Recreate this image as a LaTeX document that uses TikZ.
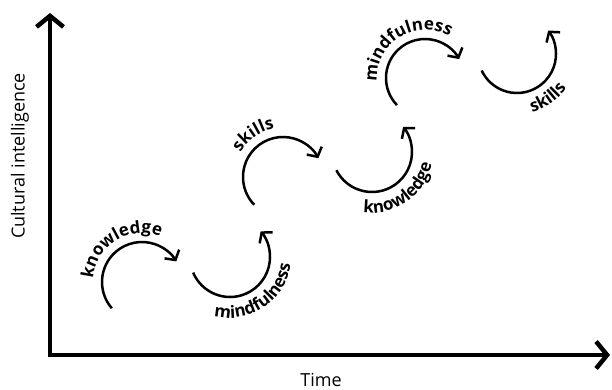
\documentclass[tikz,border=0pt]{standalone}
\usepackage{fontspec}
\setmainfont{Open Sans}
\usetikzlibrary{arrows.meta,decorations.text}
\begin{document}
\begin{tikzpicture}[x=1pt,y=1pt,
  axisline/.style={line width=4.5pt,-{Straight Barb[length=11pt,width=27pt]}},
  cyc/.style={line width=2.5pt,-{Straight Barb[length=7pt,width=17pt]}},
  axislabel/.style={font=\fontsize{18}{20}\selectfont,inner sep=0pt},
  lbl/.style={decorate,decoration={text along path,text align=center,
    text={|\fontsize{17}{20}\selectfont\bfseries|#1}}}
]
\useasboundingbox (0,0) rectangle (612,390);
% axes
\coordinate (O) at (50,35);
\coordinate (Ytop) at (50,377);
\coordinate (Xend) at (610,35);
\draw[axisline] (O) -- (Ytop);
\draw[axisline] ([xshift=-2.25pt]O) -- (Xend);
\node[axislabel,rotate=90] (ylab) at (20,234) {Cultural intelligence};
\node[axislabel] (xlab) at (321,10) {Time};
% centres
\coordinate (c1) at (142,108);
\coordinate (c2) at (230,133);
\coordinate (c3) at (283,213);
\coordinate (c4) at (372,238);
\coordinate (c5) at (425,312);
\coordinate (c6) at (517,336);
% arcs
\draw[cyc] ([shift={(221:40)}]c1) arc[start angle=221,end angle=31,radius=40];
\draw[cyc] ([shift={(203:40)}]c2) arc[start angle=203,end angle=400,radius=40];
\draw[cyc] ([shift={(224:40)}]c3) arc[start angle=224,end angle=28,radius=40];
\draw[cyc] ([shift={(207:40)}]c4) arc[start angle=207,end angle=399,radius=40];
\draw[cyc] ([shift={(224:39)}]c5) arc[start angle=224,end angle=29,radius=39];
\draw[cyc] ([shift={(205:39)}]c6) arc[start angle=205,end angle=397,radius=39];
% labels
\path[lbl=knowledge] ([shift={(190:49)}]c1) arc[start angle=190,end angle=54,radius=49];
\path[lbl=mindfulness] ([shift={(234:61)}]c2) arc[start angle=234,end angle=374,radius=61];
\path[lbl=skills] ([shift={(190:49)}]c3) arc[start angle=190,end angle=60,radius=49];
\path[lbl=knowledge] ([shift={(235:61)}]c4) arc[start angle=235,end angle=375,radius=61];
\path[lbl=mindfulness] ([shift={(190:48)}]c5) arc[start angle=190,end angle=54,radius=48];
\path[lbl=skills] ([shift={(245:60)}]c6) arc[start angle=245,end angle=365,radius=60];
\end{tikzpicture}
\end{document}
